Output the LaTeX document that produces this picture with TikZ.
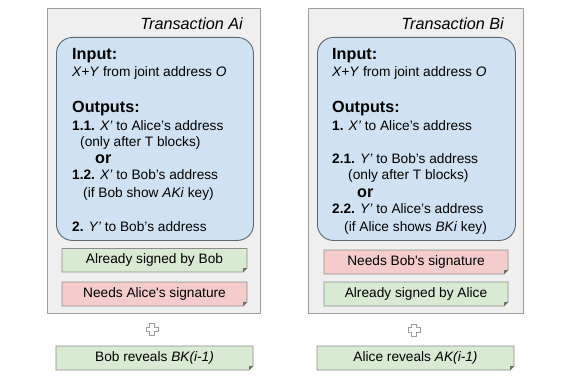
\documentclass[tikz,border=0pt]{standalone}
\usepackage{fontspec}
\setmainfont{Liberation Sans}
\definecolor{outerfill}{HTML}{EFEFEF}
\definecolor{outerdraw}{HTML}{9E9E9E}
\definecolor{bluefill}{HTML}{CFE2F3}
\definecolor{bluedraw}{HTML}{5B6670}
\definecolor{greenfill}{HTML}{D9EAD3}
\definecolor{pinkfill}{HTML}{F4CCCC}
\definecolor{notedraw}{HTML}{8C8C8C}
\definecolor{folddark}{HTML}{6E6E6E}
\newcommand\notebox[7]{%
  \path[notepath, fill=#6] (#2,#3) -- (#4,#3) -- (#4,#5-4) -- (#4-4,#5) -- (#2,#5) -- cycle;
  \fill[folddark] (#4,#5-4) -- (#4-4,#5) -- (#4-4,#5-4) -- cycle;
  \node[notetext] (#1) at ({(#2+#4)/2},{(#3+#5)/2}) {#7};
}
\newcommand\plussign[3]{%
  \node[inner sep=0, minimum size=12pt] (#1) at (#2,#3) {};
  \draw[plusstyle, shift={(#1.center)}] (-2.2,-6) -- (2.2,-6) -- (2.2,-2.2) -- (6,-2.2) -- (6,2.2) -- (2.2,2.2) -- (2.2,6) -- (-2.2,6) -- (-2.2,2.2) -- (-6,2.2) -- (-6,-2.2) -- (-2.2,-2.2) -- cycle;
}
\begin{document}
\begin{tikzpicture}[x=1pt,y=-1pt,
  outer/.style={draw=outerdraw, fill=outerfill, line width=0.9pt, inner sep=0, anchor=north west},
  inner/.style={draw=bluedraw, fill=bluefill, line width=0.9pt, rounded corners=16pt, inner sep=0, anchor=north west},
  notepath/.style={draw=notedraw, line width=0.8pt},
  notetext/.style={inner sep=0, font=\fontsize{13.7}{17}\selectfont},
  plusstyle/.style={draw=outerdraw, fill=white, line width=0.8pt, line join=miter},
  txt/.style={anchor=base west, inner sep=0, font=\fontsize{13.7}{17}\selectfont},
  head/.style={anchor=base west, inner sep=0, font=\fontsize{16.2}{19}\selectfont\bfseries},
  ttl/.style={anchor=base east, inner sep=0, font=\fontsize{16.2}{19}\selectfont\itshape}]
\useasboundingbox (0,0) rectangle (564,379);
\fill[white] (0,0) rectangle (564,379);

% ---------- Transaction Ai ----------
\node[outer, minimum width=213pt, minimum height=305pt] (A) at (47,8) {};
\node[ttl] (tA) at (243,29.5) {Transaction Ai};
\node[inner, minimum width=197pt, minimum height=203pt] (Ablue) at (56,37) {};
\node[head] (aIn) at (72,60) {Input:};
\node[txt] (aIn2) at (72,76.5) {\textit{X+Y} from joint address \textit{O}};
\node[head] (aOut) at (72,113) {Outputs:};
\node[txt] (a11) at (72,130.5) {\textbf{1.1.} \textit{X’} to Alice’s address};
\node[txt] (a11b) at (80,147) {(only after T blocks)};
\node[head] (aor) at (95,163.5) {or};
\node[txt] (a12) at (72,180) {\textbf{1.2.} \textit{X’} to Bob’s address};
\node[txt] (a12b) at (83,197) {(if Bob show \textit{AKi} key)};
\node[txt] (a2) at (72,231) {\textbf{2.} \textit{Y’} to Bob’s address};
\notebox{aSig1}{62}{248.5}{247}{272}{greenfill}{Already signed by Bob}
\notebox{aSig2}{62}{282}{247}{306}{pinkfill}{Needs Alice\textquotesingle s signature}
\plussign{aPlus}{152}{329.5}
\notebox{aRev}{56}{346}{253}{370}{greenfill}{Bob reveals \textit{BK(i-1)}}

% ---------- Transaction Bi ----------
\node[outer, minimum width=215pt, minimum height=305pt] (B) at (308,8) {};
\node[ttl] (tB) at (504,29.5) {Transaction Bi};
\node[inner, minimum width=198pt, minimum height=203pt] (Bblue) at (317,37) {};
\node[head] (bIn) at (332,60) {Input:};
\node[txt] (bIn2) at (332,76.5) {\textit{X+Y} from joint address \textit{O}};
\node[head] (bOut) at (332,113) {Outputs:};
\node[txt] (b1) at (332,130.5) {\textbf{1.} \textit{X’} to Alice’s address};
\node[txt] (b21) at (332,163.5) {\textbf{2.1.} \textit{Y’} to Bob’s address};
\node[txt] (b21b) at (348,180) {(only after T blocks)};
\node[head] (bor) at (357,197) {or};
\node[txt] (b22) at (332,214) {\textbf{2.2.} \textit{Y’} to Alice’s address};
\node[txt] (b22b) at (344,231) {(if Alice shows \textit{BKi} key)};
\notebox{bSig1}{324}{250}{508}{274}{pinkfill}{Needs Bob\textquotesingle s signature}
\notebox{bSig2}{324}{282}{508}{306}{greenfill}{Already signed by Alice}
\plussign{bPlus}{414}{330}
\notebox{bRev}{317}{346}{514}{370}{greenfill}{Alice reveals \textit{AK(i-1)}}
\end{tikzpicture}
\end{document}
